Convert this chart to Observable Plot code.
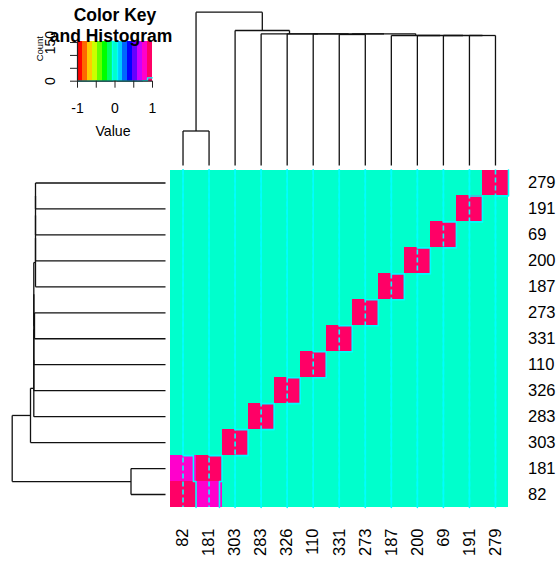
<!DOCTYPE html>
<html><head><meta charset="utf-8">
<script src="https://cdn.jsdelivr.net/npm/d3@7"></script>
<script src="https://cdn.jsdelivr.net/npm/@observablehq/plot@0.6"></script>
<style>
html,body{margin:0;padding:0;background:#fff;}
#chart{position:relative;width:560px;height:561px;overflow:hidden;background:#fff;}
#chart > svg{position:absolute;left:0;top:0;}
</style></head><body><div id="chart"></div>
<script>
// ---- data (leaf order of the dendrogram, bottom-to-top for rows, left-to-right for columns)
const labels = ["82","181","303","283","326","110","331","273","187","200","69","191","279"];
const corr = [
  [1,0.8,0,0,0,0,0,0,0,0,0,0,0],
  [0.8,1,0,0,0,0,0,0,0,0,0,0,0],
  [0,0,1,0,0,0,0,0,0,0,0,0,0],
  [0,0,0,1,0,0,0,0,0,0,0,0,0],
  [0,0,0,0,1,0,0,0,0,0,0,0,0],
  [0,0,0,0,0,1,0,0,0,0,0,0,0],
  [0,0,0,0,0,0,1,0,0,0,0,0,0],
  [0,0,0,0,0,0,0,1,0,0,0,0,0],
  [0,0,0,0,0,0,0,0,1,0,0,0,0],
  [0,0,0,0,0,0,0,0,0,1,0,0,0],
  [0,0,0,0,0,0,0,0,0,0,1,0,0],
  [0,0,0,0,0,0,0,0,0,0,0,1,0],
  [0,0,0,0,0,0,0,0,0,0,0,0,1]
];
// hierarchical clustering merges: strings = leaves, numbers = earlier merge index
const merges = [["191","279"],["69",0],["200",1],["187",2],["331","273"],[4,3],["110",5],["326",6],["283",7],["82","181"],["303",8],[9,10]];
const mergeHeights = [1.300,1.300,1.300,1.300,1.310,1.317,1.317,1.317,1.317,0.345,1.350,1.533];
// key colours (rainbow, 15 colours from -1 to 1)
const keyColors = ["#FF0000","#FF6600","#FFCC00","#CCFF00","#66FF00","#00FF00","#00FF66","#00FFCC","#00CCFF","#0066FF","#0000FF","#6600FF","#CC00FF","#FF00CC","#FF0066"];
const keyTicks = [-1,-0.5,0,0.5,1];
const keyTickLabels = ["-1","","0","","1"];
const countTicks = [0,50,100,150];
const countTickLabels = ["0","","","150"];
const keyTitle = ["Color Key","and Histogram"];

const FONT = "'Liberation Sans', Arial, Helvetica, sans-serif";
const TRACE = "#00FFFF";
const breaks = d3.range(keyColors.length + 1).map(k => -1 + 2 * k / keyColors.length);
const colorScale = {type: "threshold", domain: breaks.slice(1, -1), range: keyColors};
const n = labels.length;

// cells
const cells = [];
corr.forEach((row, r) => row.forEach((v, c) => cells.push({row: r + 1, col: c + 1, value: v})));
// trace lines (heatmap.2 trace = "column")
const trace = [];
for (let c = 0; c < n; c++) {
  const xs = corr.map(row => c + 1 + (row[c] + 1) / 2 - 0.5);
  const xv = [xs[0], ...xs];
  xv.forEach((x, j) => trace.push({col: c, x, y: j + 0.5}));
}
// histogram
const counts = keyColors.map(() => 0);
corr.flat().forEach(v => {
  let k = d3.bisectRight(breaks, v) - 1;
  if (k >= keyColors.length) k = keyColors.length - 1;
  if (k < 0) k = 0;
  counts[k]++;
});
const hist = breaks.map((b, k) => ({x: b, y: counts[Math.min(k, counts.length - 1)]}));
const maxCount = d3.max(counts);
// dendrogram segments
const pos = {}, hgt = {};
labels.forEach((l, i) => { pos[l] = i + 1; hgt[l] = 0; });
const segs = [];
merges.forEach(([a, b], k) => {
  const ka = typeof a === "string" ? a : "m" + a, kb = typeof b === "string" ? b : "m" + b;
  const h = mergeHeights[k];
  segs.push({p1: pos[ka], h1: hgt[ka], p2: pos[ka], h2: h});
  segs.push({p1: pos[ka], h1: h, p2: pos[kb], h2: h});
  segs.push({p1: pos[kb], h1: h, p2: pos[kb], h2: hgt[kb]});
  pos["m" + k] = (pos[ka] + pos[kb]) / 2; hgt["m" + k] = h;
});
const rootH = d3.max(mergeHeights);

const chart = document.getElementById("chart");
const baseStyle = {fontFamily: FONT, fontSize: "16.5px", background: "transparent", overflow: "visible", color: "#000"};

// heatmap
const heat = Plot.plot({
  width: 560, height: 561,
  marginLeft: 169.5, marginRight: 52, marginTop: 169.5, marginBottom: 54,
  style: baseStyle,
  x: {domain: [0.5, n + 0.5], axis: null},
  y: {domain: [0.5, n + 0.5], axis: null},
  color: colorScale,
  marks: [
    Plot.rect(cells, {x1: d => d.col - 0.5, x2: d => d.col + 0.5, y1: d => d.row - 0.5, y2: d => d.row + 0.5, fill: "value", shapeRendering: "crispEdges"}),
    Plot.ruleX(d3.range(1, n + 1), {stroke: TRACE, strokeWidth: 1.6, strokeDasharray: "5,3"}),
    Plot.line(trace, {x: "x", y: "y", z: "col", curve: "step-after", stroke: TRACE, strokeWidth: 1.6}),
    Plot.text(labels, {x: (d, i) => i + 1, text: d => d, frameAnchor: "bottom", dy: 21, rotate: -90, textAnchor: "end", lineAnchor: "middle", fill: "#000"}),
    Plot.text(labels, {y: (d, i) => i + 1, text: d => d, frameAnchor: "right", dx: 19.5, textAnchor: "start", lineAnchor: "middle", fill: "#000"})
  ]
});
chart.appendChild(heat);

// column dendrogram
const colDend = Plot.plot({
  width: 560, height: 170,
  marginLeft: 169.5, marginRight: 52, marginTop: 11.7, marginBottom: 5,
  style: baseStyle,
  x: {domain: [0.5, n + 0.5], axis: null},
  y: {domain: [0, rootH], axis: null},
  marks: [Plot.link(segs, {x1: "p1", y1: "h1", x2: "p2", y2: "h2", stroke: "#111", strokeWidth: 1.3})]
});
chart.appendChild(colDend);

// row dendrogram
const rowDend = Plot.plot({
  width: 170, height: 561,
  marginLeft: 11.7, marginRight: 5, marginTop: 169.5, marginBottom: 54,
  style: baseStyle,
  x: {domain: [rootH, 0], axis: null},
  y: {domain: [0.5, n + 0.5], axis: null},
  marks: [Plot.link(segs, {x1: "h1", y1: "p1", x2: "h2", y2: "p2", stroke: "#111", strokeWidth: 1.3})]
});
chart.appendChild(rowDend);

// color key + histogram
const bands = keyColors.map((c, k) => ({x1: breaks[k], x2: breaks[k + 1], mid: (breaks[k] + breaks[k + 1]) / 2}));
const key = Plot.plot({
  width: 170, height: 150,
  marginLeft: 77, marginRight: 18, marginTop: 41, marginBottom: 69.3,
  style: {...baseStyle, fontSize: "14px"},
  x: {domain: [-1, 1], axis: null},
  y: {domain: [0, maxCount], axis: null},
  color: colorScale,
  marks: [
    Plot.rect(bands, {x1: "x1", x2: "x2", fill: "mid", shapeRendering: "crispEdges"}),
    Plot.line(hist, {x: "x", y: "y", curve: "step-after", stroke: TRACE, strokeWidth: 1.3}),
    Plot.ruleY([0], {x1: -1, x2: 1, stroke: "#222", strokeWidth: 1.2}),
    Plot.ruleX([-1], {y1: 0, y2: 150, stroke: "#222", strokeWidth: 1.2}),
    Plot.axisX({ticks: keyTicks, tickFormat: (d, i) => keyTickLabels[i], tickSize: 7, tickPadding: 15, stroke: "#222", label: null, fontSize: 14}),
    Plot.axisY({ticks: countTicks, tickFormat: () => "", tickSize: 7, stroke: "#222", label: null}),
    Plot.text(countTicks, {y: d => d, text: (d, i) => countTickLabels[i], frameAnchor: "left", dx: -27, rotate: -90, lineAnchor: "middle", textAnchor: "middle", fontSize: 14}),
    Plot.text(["Count"], {frameAnchor: "left", dx: -38, rotate: -90, lineAnchor: "middle", fontSize: 9.5}),
    Plot.text(["Value"], {frameAnchor: "bottom", dx: -2, dy: 50, lineAnchor: "middle", fontSize: 14.2}),
    Plot.text([keyTitle[0]], {frameAnchor: "top", dy: -20.5, lineAnchor: "bottom", fontWeight: "bold", fontSize: 17.5}),
    Plot.text([keyTitle[1]], {frameAnchor: "top", dx: -4, dy: 0.8, lineAnchor: "bottom", fontWeight: "bold", fontSize: 17.5})
  ]
});
chart.appendChild(key);
</script></body></html>
